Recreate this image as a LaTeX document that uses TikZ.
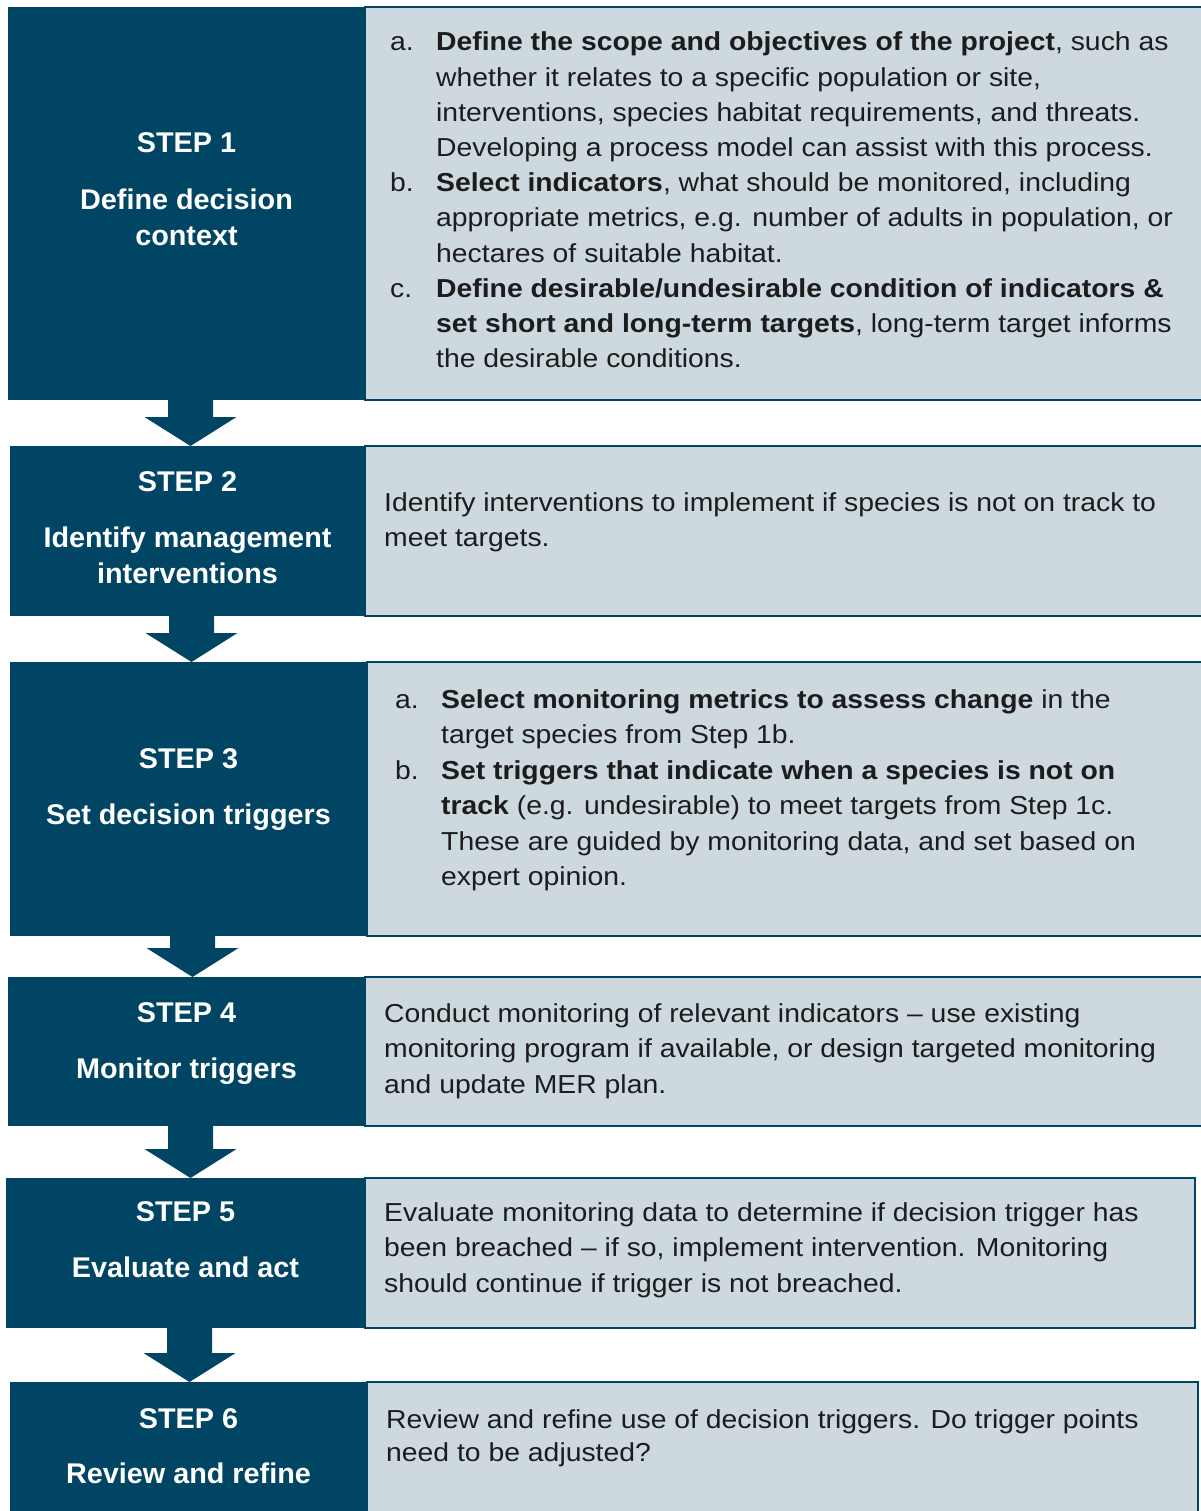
\documentclass[tikz,border=0pt]{standalone}
\usepackage{fontspec}
\setmainfont{Liberation Sans}[FakeStretch=1.09]
\newfontfamily\labelfont{Liberation Sans}[FakeStretch=1.01]
\usetikzlibrary{calc}
\definecolor{stepblue}{RGB}{0,69,99}
\definecolor{panel}{RGB}{205,217,223}
\definecolor{ink}{RGB}{28,28,28}
\newcommand\blockarrow[2]{%
  \fill[stepblue] let \p1=([xshift=4pt]#1.south), \p2=([xshift=4pt]#2.north) in
  (\x1-22.5pt,\y1+1pt) -- (\x1+22.5pt,\y1+1pt) -- (\x1+22.5pt,\y2+29pt) -- (\x1+46pt,\y2+29pt)
  -- (\x1,\y2) -- (\x1-46pt,\y2+29pt) -- (\x1-22.5pt,\y2+29pt) -- cycle;}
\newcommand\ind{\hspace*{46pt}}
\newcommand\itm[1]{\makebox[46pt][l]{#1}}
\tikzset{
  stepbox/.style={fill=stepblue, draw=none, anchor=north west, inner sep=0pt, outer sep=0pt},
  panelbox/.style={fill=panel, draw=stepblue, line width=2pt, anchor=north west, inner sep=0pt, outer sep=0pt},
  steplabel/.style={anchor=north, align=center, text=white, inner sep=0pt,
    font=\labelfont\bfseries\fontsize{28.5}{35.5}\selectfont},
  paneltext/.style={anchor=north west, align=left, text=ink, inner sep=0pt,
    font=\fontsize{26}{35.5}\selectfont},
}
\begin{document}
\begin{tikzpicture}[x=1pt,y=-1pt]
\useasboundingbox (0,0) rectangle (1200,1511);
\fill[white] (0,0) rectangle (1200,1511);

% panels
\node[panelbox, minimum width=840pt, minimum height=393pt] (p1) at (365,7) {};
\node[panelbox, minimum width=840pt, minimum height=170pt] (p2) at (365,446) {};
\node[panelbox, minimum width=838pt, minimum height=274pt] (p3) at (367,662) {};
\node[panelbox, minimum width=840pt, minimum height=149pt] (p4) at (365,977) {};
\node[panelbox, minimum width=830pt, minimum height=150pt] (p5) at (365,1178) {};
\node[panelbox, minimum width=831pt, minimum height=140pt] (p6) at (367,1382) {};

% step boxes
\node[stepbox, minimum width=357pt, minimum height=393pt] (s1) at (8,7) {};
\node[stepbox, minimum width=355pt, minimum height=170pt] (s2) at (10,446) {};
\node[stepbox, minimum width=357pt, minimum height=274pt] (s3) at (10,662) {};
\node[stepbox, minimum width=357pt, minimum height=149pt] (s4) at (8,977) {};
\node[stepbox, minimum width=359pt, minimum height=150pt] (s5) at (6,1178) {};
\node[stepbox, minimum width=357pt, minimum height=140pt] (s6) at (10,1382) {};

% arrows
\blockarrow{s1}{s2}
\blockarrow{s2}{s3}
\blockarrow{s3}{s4}
\blockarrow{s4}{s5}
\blockarrow{s5}{s6}

% step labels
\node[steplabel] (l1) at (186.5,132) {STEP 1\\[22pt]Define decision\\context};
\node[steplabel] (l2) at (187.5,471) {STEP 2\\[21pt]Identify management\\interventions};
\node[steplabel] (l3) at (188.5,748) {STEP 3\\[21pt]Set decision triggers};
\node[steplabel] (l4) at (186.5,1002) {STEP 4\\[21pt]Monitor triggers};
\node[steplabel] (l5) at (185.5,1201) {STEP 5\\[21pt]Evaluate and act};
\node[steplabel] (l6) at (188.5,1408) {STEP 6\\[20pt]Review and refine};

% panel texts
\node[paneltext, font=\fontsize{26}{35.2}\selectfont] (t1) at (390,26) {\strut\itm{a.}\textbf{Define the scope and objectives of the project}, such as\\
\ind whether it relates to a specific population or site,\\
\ind interventions, species habitat requirements, and threats.\\
\ind Developing a process model can assist with this process.\\
\itm{b.}\textbf{Select indicators}, what should be monitored, including\\
\ind appropriate metrics, e.g. number of adults in population, or\\
\ind hectares of suitable habitat.\\
\itm{c.}\textbf{Define desirable/undesirable condition of indicators \&}\\
\ind \textbf{set short and long-term targets}, long-term target informs\\
\ind the desirable conditions.};

\node[paneltext] (t2) at (384,486) {\strut Identify interventions to implement if species is not on track to\\
meet targets.};

\node[paneltext] (t3) at (395,683) {\strut\itm{a.}\textbf{Select monitoring metrics to assess change} in the\\
\ind target species from Step 1b.\\
\itm{b.}\textbf{Set triggers that indicate when a species is not on}\\
\ind \textbf{track} (e.g. undesirable) to meet targets from Step 1c.\\
\ind These are guided by monitoring data, and set based on\\
\ind expert opinion.};

\node[paneltext] (t4) at (384,997) {\strut Conduct monitoring of relevant indicators – use existing\\
monitoring program if available, or design targeted monitoring\\
and update MER plan.};

\node[paneltext] (t5) at (384,1196) {\strut Evaluate monitoring data to determine if decision trigger has\\
been breached – if so, implement intervention. Monitoring\\
should continue if trigger is not breached.};

\node[paneltext, font=\fontsize{26}{33}\selectfont] (t6) at (386,1405) {\strut Review and refine use of decision triggers. Do trigger points\\
need to be adjusted?};
\end{tikzpicture}
\end{document}
